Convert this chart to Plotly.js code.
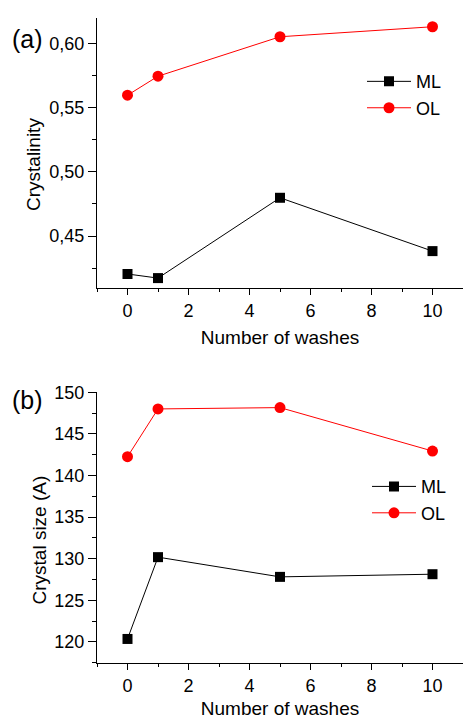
<!DOCTYPE html>
<html><head><meta charset="utf-8">
<script src="https://cdn.plot.ly/plotly-3.0.1.min.js"></script>
<style>html,body{margin:0;padding:0;background:#fff}</style>
</head><body>
<div id="chart" style="width:463px;height:719px"></div>
<script>
const washes = [0, 1, 5, 10];
const crystML = [0.4205, 0.4173, 0.4798, 0.4383];
const crystOL = [0.5596, 0.5744, 0.6051, 0.6129];
const sizeML = [120.36, 130.19, 127.82, 128.14];
const sizeOL = [142.26, 148.0, 148.16, 142.94];
const xTitle = 'Number of washes';
const yTitleA = 'Crystalinity';
const yTitleB = 'Crystal size (A)';

const F = 'Liberation Sans, Arial, sans-serif';
const black = '#000000', red = '#ff0000';
const xRange = [-1, 11];
const yRangeA = [0.4096, 0.6197];
const yRangeB = [117.47, 150];

function line(x, y, name, color, symbol, size, xa, ya, legend) {
  return {x: x, y: y, name: name, type: 'scatter', mode: 'lines+markers',
    xaxis: xa, yaxis: ya, legend: legend,
    line: {color: color, width: 1},
    marker: {color: color, symbol: symbol, size: size}};
}

const data = [
  line(washes, crystML, 'ML', black, 'square', 10, 'x', 'y', 'legend'),
  line(washes, crystOL, 'OL', red, 'circle', 11, 'x', 'y', 'legend'),
  line(washes, sizeML, 'ML', black, 'square', 10, 'x2', 'y2', 'legend2'),
  line(washes, sizeOL, 'OL', red, 'circle', 11, 'x2', 'y2', 'legend2')
];

const tickFont = {family: F, size: 18, color: black};
const titleFont = {family: F, size: 19, color: black};

function xBottom(anchor) {
  return {
    range: xRange, anchor: anchor, dtick: 2, tick0: 0,
    ticks: 'outside', ticklen: 6, tickwidth: 1, tickcolor: black,
    minor: {dtick: 1, tick0: 0, ticks: 'outside', ticklen: 3, tickcolor: black},
    showline: true, linecolor: black, linewidth: 1,
    showgrid: false, zeroline: false, tickfont: tickFont,
    title: {text: xTitle, font: titleFont, standoff: 11}
  };
}
function xTop(anchor, over) {
  return {
    range: xRange, anchor: anchor, overlaying: over, side: 'top', dtick: 2, tick0: 0,
    ticks: 'inside', ticklen: 6, tickwidth: 1, tickcolor: black,
    minor: {dtick: 1, tick0: 0, ticks: 'inside', ticklen: 3, tickcolor: black},
    showline: true, linecolor: black, linewidth: 1,
    showgrid: false, zeroline: false, showticklabels: false
  };
}
function yLeft(anchor, domain, range, dtick, fmt) {
  return {
    domain: domain, anchor: anchor, range: range, dtick: dtick,
    ticks: 'outside', ticklen: 8, tickwidth: 1, tickcolor: black,
    minor: {dtick: dtick / 2, ticks: 'outside', ticklen: 4, tickcolor: black},
    showline: true, linecolor: black, linewidth: 1,
    showgrid: false, zeroline: false, tickfont: tickFont, tickformat: fmt
  };
}
function yRight(anchor, over, domain, range, dtick) {
  return {
    domain: domain, anchor: anchor, overlaying: over, side: 'right', range: range, dtick: dtick,
    ticks: 'inside', ticklen: 6, tickwidth: 1, tickcolor: black,
    minor: {dtick: dtick / 2, ticks: 'inside', ticklen: 3, tickcolor: black},
    showline: false, showgrid: false, zeroline: false, showticklabels: false
  };
}

const domA = [0.5814, 1], domB = [0, 0.4197];
const legFont = {family: F, size: 18, color: black};

const layout = {
  width: 463, height: 719,
  margin: {l: 97, r: 0, t: 18, b: 56},
  paper_bgcolor: '#fff', plot_bgcolor: '#fff',
  separators: ',.',
  font: {family: F, color: black},
  xaxis: xBottom('y'),
  yaxis: yLeft('x', domA, yRangeA, 0.05, '.2f'),
  xaxis2: xBottom('y2'),
  yaxis2: yLeft('x2', domB, yRangeB, 5, 'd'),
  xaxis3: xTop('y', 'x'),
  yaxis3: yRight('x', 'y', domA, yRangeA, 0.05),
  xaxis4: xTop('y2', 'x2'),
  yaxis4: yRight('x2', 'y2', domB, yRangeB, 5),
  legend: {x: (362 - 97) / 366, y: 0.93, xanchor: 'left', yanchor: 'top', bgcolor: 'rgba(0,0,0,0)',
    font: legFont, tracegroupgap: 0, itemwidth: 44},
  legend2: {x: (367 - 97) / 366, y: 0.302, xanchor: 'left', yanchor: 'top', bgcolor: 'rgba(0,0,0,0)',
    font: legFont, tracegroupgap: 0, itemwidth: 44},
  annotations: [
    {text: '(a)', xref: 'paper', yref: 'paper', x: -0.191, y: 0.9667, xanchor: 'center', yanchor: 'middle',
     showarrow: false, font: {family: F, size: 25, color: black}},
    {text: '(b)', xref: 'paper', yref: 'paper', x: -0.189, y: 0.4075, xanchor: 'center', yanchor: 'middle',
     showarrow: false, font: {family: F, size: 25, color: black}},
    {text: yTitleA, xref: 'paper', yref: 'paper', x: (33 - 97) / 366, y: (663 - 165) / 645,
     xanchor: 'center', yanchor: 'middle', textangle: -90, showarrow: false, font: titleFont},
    {text: yTitleB, xref: 'paper', yref: 'paper', x: (38.5 - 97) / 366, y: (663 - 540) / 645,
     xanchor: 'center', yanchor: 'middle', textangle: -90, showarrow: false, font: titleFont}
  ],
  showlegend: true
};

Plotly.newPlot('chart', data, layout, {displayModeBar: false, staticPlot: true});
</script>
</body></html>
